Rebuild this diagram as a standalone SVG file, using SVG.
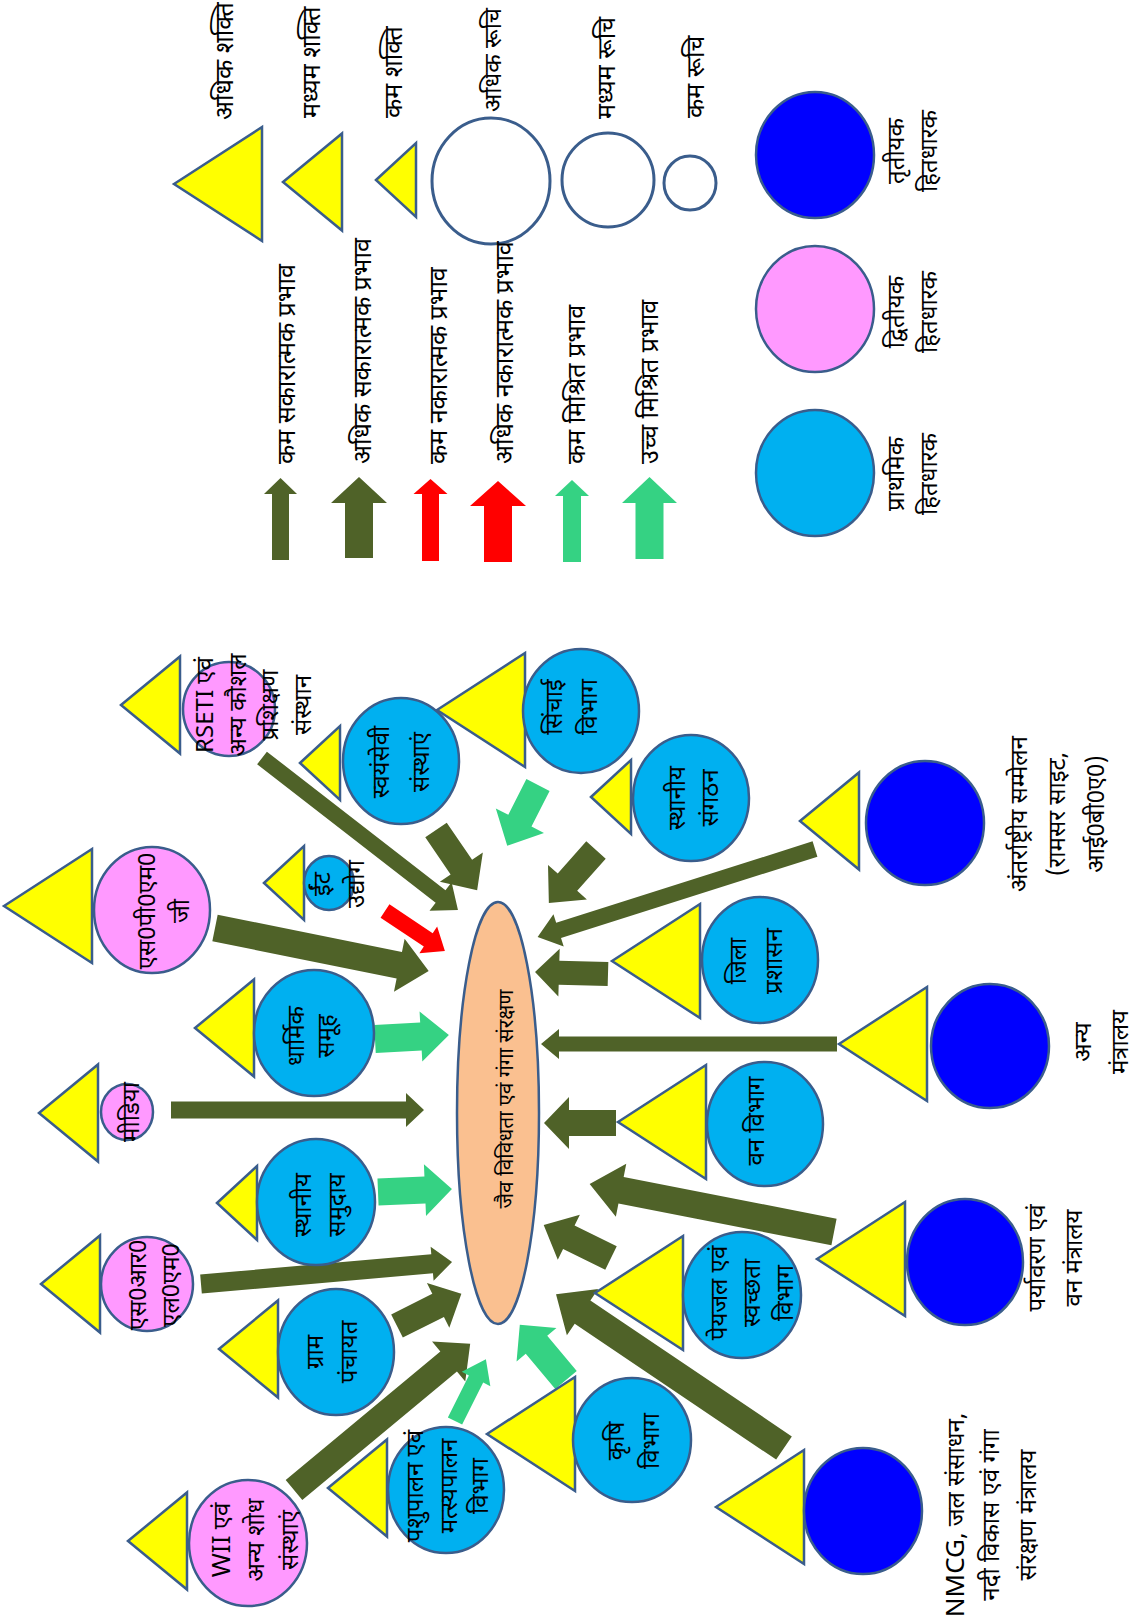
<svg xmlns="http://www.w3.org/2000/svg" width="1136" height="1624" viewBox="0 0 1136 1624">
<defs>
<style>
.tri{fill:#FFFF00;stroke:#3A5D8C;stroke-width:2.5}
.lb{fill:#00B0F0;stroke:#3A5D8C;stroke-width:2.5}
.pk{fill:#FF99FF;stroke:#3A5D8C;stroke-width:2.5}
.db{fill:#0000FF;stroke:#3A5D8C;stroke-width:2.5}
.oc{fill:none;stroke:#3A5D8C;stroke-width:3}
.ol{fill:#4F6228}
.gr{fill:#35D283}
.rd{fill:#FF0000}
.t{font-family:'Noto Sans Devanagari','Lohit Devanagari',Mangal,FreeSans,'Noto Sans',sans-serif;font-size:24px;fill:#000}
.c{text-anchor:middle}
.lg{font-size:25px}
.big{font-size:26px}
</style>
<path id="tB" d="M0,0 L88,-57 L88,57 Z"/>
<path id="tM" d="M0,0 L59,-48.5 L59,48.5 Z"/>
<path id="tS" d="M0,0 L40,-37 L40,37 Z"/>
</defs>
<rect width="1136" height="1624" fill="#FFFFFF"/>

<g id="legend">
<use href="#tB" class="tri" x="174" y="184"/>
<use href="#tM" class="tri" x="283" y="182"/>
<use href="#tS" class="tri" x="376" y="180"/>
<ellipse class="oc" cx="491" cy="181" rx="59" ry="63"/>
<ellipse class="oc" cx="608" cy="180" rx="46" ry="47"/>
<ellipse class="oc" cx="690" cy="183" rx="26" ry="27"/>
<text class="t lg" transform="translate(0,120) rotate(-90)"><tspan x="0" y="233">अधिक शक्ति</tspan></text>
<text class="t lg" transform="translate(0,118) rotate(-90)"><tspan x="0" y="320">मध्यम शक्ति</tspan></text>
<text class="t lg" transform="translate(0,118) rotate(-90)"><tspan x="0" y="402">कम शक्ति</tspan></text>
<text class="t" transform="translate(0,112) rotate(-90)"><tspan x="0" y="501">अधिक रूचि</tspan></text>
<text class="t lg" transform="translate(0,119) rotate(-90)"><tspan x="0" y="615">मध्यम रूचि</tspan></text>
<text class="t lg" transform="translate(0,118) rotate(-90)"><tspan x="0" y="704">कम रूचि</tspan></text>

<polygon class="ol" transform="translate(280.5,560) rotate(-90)" points="0,-8.5 66,-8.5 66,-16.5 82,0 66,16.5 66,8.5 0,8.5"/>
<polygon class="ol" transform="translate(359,558) rotate(-90)" points="0,-14 55,-14 55,-28 81,0 55,28 55,14 0,14"/>
<polygon class="rd" transform="translate(430.5,561) rotate(-90)" points="0,-8.5 67,-8.5 67,-17 82,0 67,17 67,8.5 0,8.5"/>
<polygon class="rd" transform="translate(498,562) rotate(-90)" points="0,-14 56,-14 56,-28 81,0 56,28 56,14 0,14"/>
<polygon class="gr" transform="translate(572,562) rotate(-90)" points="0,-9 66,-9 66,-17 82,0 66,17 66,9 0,9"/>
<polygon class="gr" transform="translate(649.5,559) rotate(-90)" points="0,-14 56,-14 56,-27.5 82,0 56,27.5 56,14 0,14"/>
<text class="t lg" transform="translate(0,464) rotate(-90)"><tspan x="0" y="295">कम सकारात्मक प्रभाव</tspan></text>
<text class="t lg" transform="translate(0,464) rotate(-90)"><tspan x="0" y="371">अधिक सकारात्मक प्रभाव</tspan></text>
<text class="t lg" transform="translate(0,464) rotate(-90)"><tspan x="0" y="447">कम नकारात्मक प्रभाव</tspan></text>
<text class="t lg" transform="translate(0,464) rotate(-90)"><tspan x="0" y="513">अधिक नकारात्मक प्रभाव</tspan></text>
<text class="t lg" transform="translate(0,464) rotate(-90)"><tspan x="0" y="585">कम मिश्रित प्रभाव</tspan></text>
<text class="t lg" transform="translate(0,464) rotate(-90)"><tspan x="0" y="658">उच्च मिश्रित प्रभाव</tspan></text>

<ellipse class="db" cx="815" cy="155" rx="59" ry="63"/>
<ellipse class="pk" cx="815" cy="309" rx="59" ry="63"/>
<ellipse class="lb" cx="815" cy="473" rx="59" ry="63"/>
<text class="t c" transform="translate(0,151) rotate(-90)"><tspan x="0" y="904">तृतीयक</tspan><tspan x="0" y="937">हितधारक</tspan></text>
<text class="t c" transform="translate(0,312) rotate(-90)"><tspan x="0" y="904">द्वितीयक</tspan><tspan x="0" y="937">हितधारक</tspan></text>
<text class="t c" transform="translate(0,474) rotate(-90)"><tspan x="0" y="904">प्राथमिक</tspan><tspan x="0" y="937">हितधारक</tspan></text>
</g>

<g id="connectors">
<polygon class="ol" transform="translate(262,758) rotate(37.8)" points="0,-8 226,-8 226,-18 248,0 226,18 226,8 0,8"/>
<polygon class="ol" transform="translate(436,830) rotate(55.7)" points="0,-13 45,-13 45,-26 73,0 45,26 45,13 0,13"/>
<polygon class="gr" transform="translate(538,785) rotate(116.9)" points="0,-13 40,-13 40,-27 68,0 40,27 40,13 0,13"/>
<polygon class="ol" transform="translate(596,850) rotate(131.6)" points="0,-13 43,-13 43,-26 71,0 43,26 43,13 0,13"/>
<polygon class="ol" transform="translate(215,928) rotate(11.4)" points="0,-13.5 188,-13.5 188,-27 218,0 188,27 188,13.5 0,13.5"/>
<polygon class="rd" transform="translate(385,911) rotate(33.7)" points="0,-8 52,-8 52,-16 72,0 52,16 52,8 0,8"/>
<polygon class="gr" transform="translate(375,1039) rotate(-3.1)" points="0,-14 46,-14 46,-25 74,0 46,25 46,14 0,14"/>
<polygon class="ol" transform="translate(171,1110) rotate(0)" points="0,-8.5 235,-8.5 235,-17 253,0 235,17 235,8.5 0,8.5"/>
<polygon class="gr" transform="translate(378,1192) rotate(-2.3)" points="0,-13.5 47,-13.5 47,-26 74,0 47,26 47,13.5 0,13.5"/>
<polygon class="ol" transform="translate(201,1284) rotate(-5)" points="0,-9.5 232,-9.5 232,-17 252,0 232,17 232,9.5 0,9.5"/>
<polygon class="ol" transform="translate(397,1326) rotate(-26.6)" points="0,-13 46,-13 46,-25 72,0 46,25 46,13 0,13"/>
<polygon class="ol" transform="translate(294,1490) rotate(-39.7)" points="0,-13 201,-13 201,-26 229,0 201,26 201,13 0,13"/>
<polygon class="gr" transform="translate(455,1421) rotate(-63.4)" points="0,-8 47,-8 47,-16 69,0 47,16 47,8 0,8"/>
<polygon class="gr" transform="translate(566,1380) rotate(-129.9)" points="0,-14 46,-14 46,-26 72,0 46,26 46,14 0,14"/>
<polygon class="ol" transform="translate(611,1258) rotate(-153.8)" points="0,-13 47,-13 47,-25 75,0 47,25 47,13 0,13"/>
<polygon class="ol" transform="translate(784,1448) rotate(-146)" points="0,-14 243,-14 243,-28 275,0 243,28 243,14 0,14"/>
<polygon class="ol" transform="translate(834,1232) rotate(-168.9)" points="0,-13.5 217,-13.5 217,-27 249,0 217,27 217,13.5 0,13.5"/>
<polygon class="ol" transform="translate(616,1123) rotate(180)" points="0,-13 47,-13 47,-26 72,0 47,26 47,13 0,13"/>
<polygon class="ol" transform="translate(837,1044) rotate(180)" points="0,-7.5 278,-7.5 278,-15 296,0 278,15 278,7.5 0,7.5"/>
<polygon class="ol" transform="translate(608,974) rotate(181.6)" points="0,-12 49,-12 49,-24 73,0 49,24 49,12 0,12"/>
<polygon class="ol" transform="translate(815,849) rotate(162.4)" points="0,-8 269,-8 269,-17 291,0 269,17 269,8 0,8"/>
</g>

<g id="center">
<ellipse cx="498" cy="1113" rx="41" ry="211" fill="#FAC090" stroke="#3A5D8C" stroke-width="2.5"/>
<text class="t c" style="font-size:21px" transform="translate(0,1099) rotate(-90)"><tspan x="0" y="513">जैव विविधता एवं गंगा संरक्षण</tspan></text>
</g>

<g id="n-rseti">
<use href="#tM" class="tri" x="121" y="705"/>
<ellipse class="pk" cx="229" cy="709" rx="46" ry="47"/>
<text class="t c" transform="translate(0,705) rotate(-90)"><tspan x="0" y="213">RSETI एवं</tspan><tspan x="0" y="246">अन्य कौशल</tspan><tspan x="0" y="278">प्रशिक्षण</tspan><tspan x="0" y="311">संस्थान</tspan></text>
</g>
<g id="n-swayamsevi">
<use href="#tS" class="tri" x="300" y="763"/>
<ellipse class="lb" cx="401" cy="761" rx="58" ry="63"/>
<text class="t c" transform="translate(0,762) rotate(-90)"><tspan x="0" y="389">स्वयंसेवी</tspan><tspan x="0" y="429">संस्थाएं</tspan></text>
</g>
<g id="n-sinchai">
<use href="#tB" class="tri" x="437" y="710"/>
<ellipse class="lb" cx="581" cy="711" rx="58" ry="62"/>
<text class="t c" transform="translate(0,707) rotate(-90)"><tspan x="0" y="562">सिंचाई</tspan><tspan x="0" y="597">विभाग</tspan></text>
</g>
<g id="n-sthaniya-sangathan">
<use href="#tS" class="tri" x="591" y="797"/>
<ellipse class="lb" cx="691" cy="798" rx="58" ry="63"/>
<text class="t c" transform="translate(0,798) rotate(-90)"><tspan x="0" y="685">स्थानीय</tspan><tspan x="0" y="718">संगठन</tspan></text>
</g>
<g id="n-antarrashtriya">
<use href="#tM" class="tri" x="800" y="821"/>
<ellipse class="db" cx="925" cy="823" rx="59" ry="62"/>
<text class="t c" transform="translate(0,814) rotate(-90)"><tspan x="0" y="1027">अंतर्राष्ट्रीय सम्मेलन</tspan><tspan x="0" y="1065">(रामसर साइट,</tspan><tspan x="0" y="1104">आई0बी0ए0)</tspan></text>
</g>
<g id="n-int">
<use href="#tS" class="tri" x="264" y="883"/>
<ellipse class="lb" cx="329" cy="883" rx="25" ry="27"/>
<text class="t c" transform="translate(0,884) rotate(-90)"><tspan x="0" y="330">ईंट</tspan><tspan x="0" y="364">उद्योग</tspan></text>
</g>
<g id="n-spmg">
<use href="#tB" class="tri" x="4" y="906"/>
<ellipse class="pk" cx="152" cy="910" rx="58" ry="63"/>
<text class="t c" transform="translate(0,911) rotate(-90)"><tspan x="0" y="155">एस0पी0एम0</tspan><tspan x="0" y="189">जी</tspan></text>
</g>
<g id="n-dharmik">
<use href="#tM" class="tri" x="195" y="1028"/>
<ellipse class="lb" cx="314" cy="1033" rx="60" ry="63"/>
<text class="t c" transform="translate(0,1036) rotate(-90)"><tspan x="0" y="304">धार्मिक</tspan><tspan x="0" y="334">समूह</tspan></text>
</g>
<g id="n-jila">
<use href="#tB" class="tri" x="612" y="961"/>
<ellipse class="lb" cx="760" cy="960" rx="58" ry="63"/>
<text class="t c" transform="translate(0,961) rotate(-90)"><tspan x="0" y="746">जिला</tspan><tspan x="0" y="782">प्रशासन</tspan></text>
</g>
<g id="n-anya-mantralay">
<use href="#tB" class="tri" x="839" y="1044"/>
<ellipse class="db" cx="990" cy="1046" rx="59" ry="62"/>
<text class="t c" transform="translate(0,1042) rotate(-90)"><tspan x="0" y="1091">अन्य</tspan><tspan x="0" y="1128">मंत्रालय</tspan></text>
</g>
<g id="n-media">
<use href="#tM" class="tri" x="39" y="1113"/>
<ellipse class="pk" cx="127" cy="1112" rx="26" ry="28"/>
<text class="t c" transform="translate(0,1112) rotate(-90)"><tspan x="0" y="139">मीडिया</tspan></text>
</g>
<g id="n-van-vibhag">
<use href="#tB" class="tri" x="618" y="1122"/>
<ellipse class="lb" cx="765" cy="1124" rx="58" ry="62"/>
<text class="t c" transform="translate(0,1121) rotate(-90)"><tspan x="0" y="764">वन विभाग</tspan></text>
</g>
<g id="n-sthaniya-samuday">
<use href="#tS" class="tri" x="217" y="1203"/>
<ellipse class="lb" cx="316" cy="1202" rx="59" ry="63"/>
<text class="t c" transform="translate(0,1205) rotate(-90)"><tspan x="0" y="311">स्थानीय</tspan><tspan x="0" y="345">समुदाय</tspan></text>
</g>
<g id="n-srlm">
<use href="#tM" class="tri" x="41" y="1284"/>
<ellipse class="pk" cx="147" cy="1284" rx="46" ry="47"/>
<text class="t c" transform="translate(0,1285) rotate(-90)"><tspan x="0" y="146">एस0आर0</tspan><tspan x="0" y="179">एल0एम0</tspan></text>
</g>
<g id="n-gram-panchayat">
<use href="#tM" class="tri" x="219" y="1349"/>
<ellipse class="lb" cx="336" cy="1352" rx="58" ry="63"/>
<text class="t c" transform="translate(0,1352) rotate(-90)"><tspan x="0" y="323">ग्राम</tspan><tspan x="0" y="357">पंचायत</tspan></text>
</g>
<g id="n-paryavaran">
<use href="#tB" class="tri" x="817" y="1259"/>
<ellipse class="db" cx="965" cy="1262" rx="58" ry="63"/>
<text class="t c" transform="translate(0,1258) rotate(-90)"><tspan x="0" y="1045">पर्यावरण एवं</tspan><tspan x="0" y="1082">वन मंत्रालय</tspan></text>
</g>
<g id="n-peyjal">
<use href="#tB" class="tri" x="595" y="1293"/>
<ellipse class="lb" cx="742" cy="1295" rx="59" ry="63"/>
<text class="t c" transform="translate(0,1293) rotate(-90)"><tspan x="0" y="727">पेयजल एवं</tspan><tspan x="0" y="760">स्वच्छता</tspan><tspan x="0" y="793">विभाग</tspan></text>
</g>
<g id="n-krishi">
<use href="#tB" class="tri" x="487" y="1434"/>
<ellipse class="lb" cx="632" cy="1440" rx="59" ry="62"/>
<text class="t c" transform="translate(0,1441) rotate(-90)"><tspan x="0" y="624">कृषि</tspan><tspan x="0" y="659">विभाग</tspan></text>
</g>
<g id="n-pashupalan">
<use href="#tM" class="tri" x="328" y="1488"/>
<ellipse class="lb" cx="446" cy="1490" rx="58" ry="63"/>
<text class="t c" transform="translate(0,1486) rotate(-90)"><tspan x="0" y="423">पशुपालन एवं</tspan><tspan x="0" y="457">मत्स्यपालन</tspan><tspan x="0" y="488">विभाग</tspan></text>
</g>
<g id="n-nmcg">
<use href="#tB" class="tri" x="716" y="1507"/>
<ellipse class="db" cx="863" cy="1511" rx="59" ry="63"/>
<text class="t c" transform="translate(0,1515) rotate(-90)"><tspan x="0" y="964"><tspan class="big">NMCG</tspan>, जल संसाधन,</tspan><tspan x="0" y="999">नदी विकास एवं गंगा</tspan><tspan x="0" y="1036">संरक्षण मंत्रालय</tspan></text>
</g>
<g id="n-wii">
<use href="#tM" class="tri" x="128" y="1541"/>
<ellipse class="pk" cx="248" cy="1543" rx="59" ry="63"/>
<text class="t c" transform="translate(0,1540) rotate(-90)"><tspan x="0" y="230"><tspan class="big">WII</tspan> एवं</tspan><tspan x="0" y="264">अन्य शोध</tspan><tspan x="0" y="298">संस्थाएं</tspan></text>
</g>
</svg>
